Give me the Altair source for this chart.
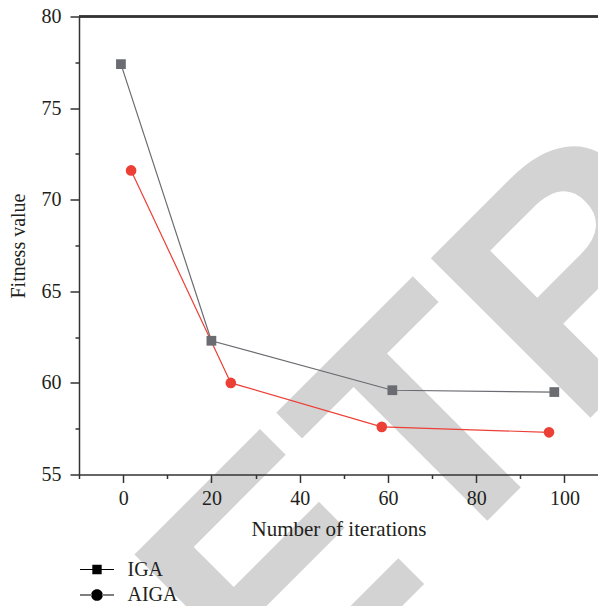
import altair as alt
import pandas as pd

# ---- data ----
series_names = ["IGA", "AIGA"]
iga_x = [-0.5, 20.0, 61.0, 97.7]
iga_y = [77.4, 62.3, 59.6, 59.5]
aiga_x = [1.8, 24.4, 58.6, 96.5]
aiga_y = [71.6, 60.0, 57.6, 57.3]
x_ticks = [-10, 0, 10, 20, 30, 40, 50, 60, 70, 80, 90, 100]
y_ticks = [55, 57.5, 60, 62.5, 65, 67.5, 70, 72.5, 75, 77.5, 80]
x_domain = [-10, 107.6]
y_domain = [55, 80]
watermark = ["RETRACTED"]

colors = ["#6b6c71", "#ec3f36"]
SERIF = "Liberation Serif"

df = pd.DataFrame({
    "x": iga_x + aiga_x,
    "y": iga_y + aiga_y,
    "series": [series_names[0]] * len(iga_x) + [series_names[1]] * len(aiga_x),
})

cscale = alt.Scale(domain=series_names, range=colors)

x_axis = alt.Axis(
    values=x_ticks,
    labelExpr="datum.value % 20 === 0 ? datum.label : ''",
    tickSize={"condition": {"test": "datum.value % 20 === 0", "value": 8}, "value": 4},
    labelFont=SERIF, labelFontSize=20, labelColor="#231f20",
    titleFont=SERIF, titleFontSize=21, titleFontWeight="normal", titleColor="#231f20",
    domainColor="#333333", domainWidth=1.5, tickColor="#333333", tickWidth=1.5,
    labelPadding=6, titlePadding=10, grid=False, zindex=1,
    labelOverlap=False, labelFlush=False,
)
y_axis = alt.Axis(
    values=y_ticks,
    labelExpr="datum.value % 5 === 0 ? datum.label : ''",
    tickSize={"condition": {"test": "datum.value % 5 === 0", "value": 9}, "value": 4},
    labelFont=SERIF, labelFontSize=20, labelColor="#231f20",
    titleFont=SERIF, titleFontSize=20, titleFontWeight="normal", titleColor="#231f20",
    domainColor="#333333", domainWidth=1.5, tickColor="#333333", tickWidth=1.5,
    labelPadding=9, titlePadding=13, grid=False, zindex=1,
    labelOverlap=False, labelFlush=False,
)

X = alt.X("x:Q", scale=alt.Scale(domain=x_domain, nice=False, zero=False),
          axis=x_axis, title="Number of iterations")
Y = alt.Y("y:Q", scale=alt.Scale(domain=y_domain, nice=False, zero=False),
          axis=y_axis, title="Fitness value")

base = alt.Chart(df)

wm = alt.Chart(pd.DataFrame({"t": watermark})).mark_text(
    font="Liberation Sans", fontWeight="bold", fontSize=328, angle=315,
    align="left", baseline="alphabetic", color="#d3d3d3",
).encode(text="t:N", x=alt.value(32), y=alt.value(880.6))

top_rule = base.mark_rule(color="#333333", strokeWidth=1.5).encode(
    x=alt.X(datum=x_domain[0], title="Number of iterations"),
    x2=alt.X2(datum=x_domain[1]),
    y=alt.Y(datum=y_domain[1], title="Fitness value"),
)

lines = base.mark_line(strokeWidth=1.2).encode(
    x=X, y=Y, color=alt.Color("series:N", scale=cscale, legend=None),
)

iga_pts = base.transform_filter(alt.datum.series == series_names[0]).mark_square(
    size=95, opacity=1).encode(
    x=X, y=Y, color=alt.Color("series:N", scale=cscale, legend=None))
aiga_pts = base.transform_filter(alt.datum.series == series_names[1]).mark_circle(
    size=113, opacity=1).encode(
    x=X, y=Y, color=alt.Color("series:N", scale=cscale, legend=None))

# legend symbols: a short line with the marker in the middle (all filled shapes)
path_sq = ("M-2,-0.07H-0.5V0.07H-2Z M0.5,-0.07H2V0.07H0.5Z "
           "M-0.55,-0.55H0.55V0.55H-0.55Z")
path_ci = ("M-2,-0.07H-0.6V0.07H-2Z M0.6,-0.07H2V0.07H0.6Z "
           "M-0.69,0A0.69,0.69 0 1,0 0.69,0A0.69,0.69 0 1,0 -0.69,0Z")

leg = alt.Legend(
    title=None, orient="none", legendX=8, legendY=543,
    labelFont=SERIF, labelFontSize=20, labelColor="#231f20",
    labelOffset=20.5, symbolOpacity=1, symbolStrokeWidth=0, symbolSize=289,
    rowPadding=5.5, padding=0, zindex=1,
)

legend_layer = base.mark_point(filled=True, opacity=0, size=289, strokeWidth=0).encode(
    x=X, y=Y,
    fill=alt.Fill("series:N", scale=cscale, legend=leg),
    shape=alt.Shape("series:N", scale=alt.Scale(domain=series_names, range=[path_sq, path_ci]), legend=leg),
)

chart = alt.layer(wm, top_rule, lines, iga_pts, aiga_pts, legend_layer).resolve_scale(
    shape="independent"
).properties(
    width=519, height=458,
    padding={"left": 71, "top": 8.5, "right": 0, "bottom": 131.5},
    autosize=alt.AutoSizeParams(type="none"),
    background="white",
).configure_view(stroke=None)

chart.save("out.html", embed_options={"renderer": "svg", "actions": False})
